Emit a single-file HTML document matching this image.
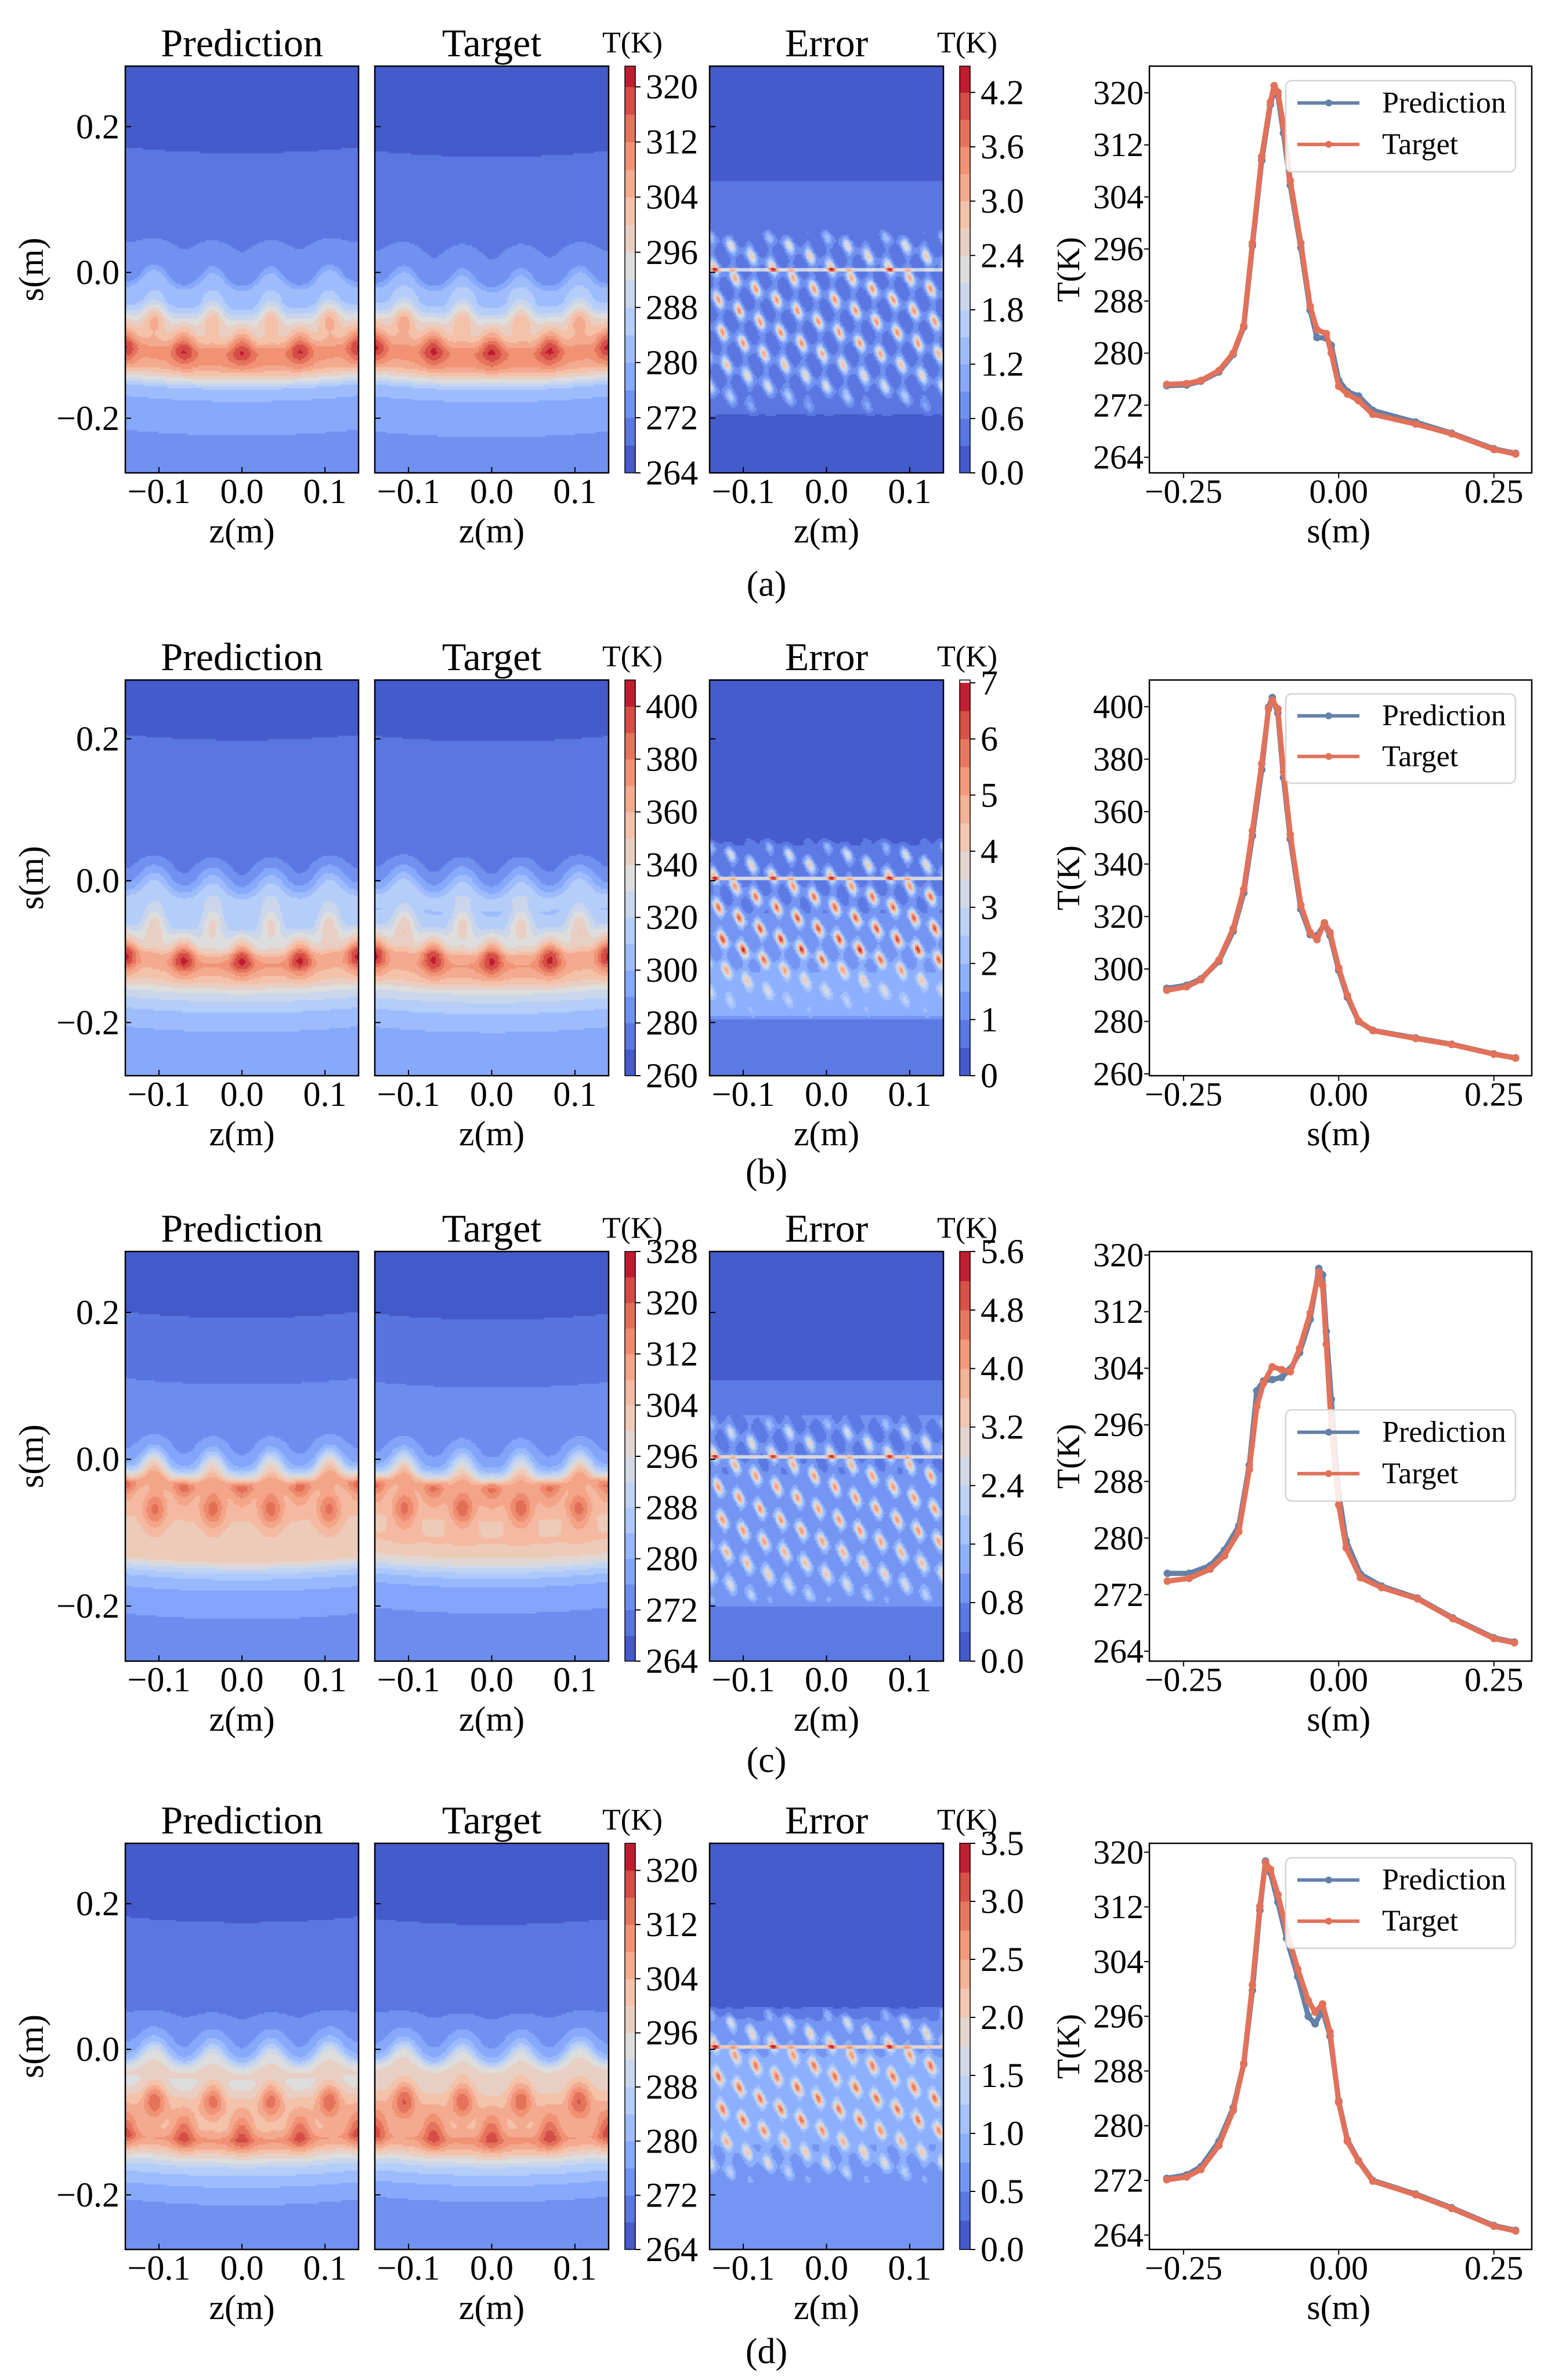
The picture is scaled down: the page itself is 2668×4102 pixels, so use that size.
<!DOCTYPE html>
<html>
<head>
<meta charset="utf-8">
<style>
html,body{margin:0;padding:0;background:#fff;}
#root{position:relative;width:2668px;height:4102px;overflow:hidden;background:#fff;}
canvas{position:absolute;}
svg{position:absolute;left:0;top:0;}
text{font-family:"Liberation Serif","DejaVu Serif",serif;fill:#000;}
</style>
</head>
<body>
<div id="root">
<svg id="ov" width="2668" height="4102" font-family="Liberation Serif, DejaVu Serif, serif"></svg>
</div>
<script>
// ---------------- DATA ----------------
const sA = [-0.277,-0.245,-0.222,-0.193,-0.170,-0.153,-0.139,-0.124,-0.110,-0.104,-0.098,-0.089,-0.078,-0.061,-0.046,-0.035,-0.020,-0.012,0.000,0.014,0.032,0.055,0.124,0.182,0.250,0.285];
const tgtA = [275.2,275.3,275.8,277.3,280.0,284.2,296.9,310.2,318.6,321.1,320.1,315.0,306.5,296.9,287.2,283.6,283.0,280.0,274.9,273.7,272.7,270.6,269.1,267.6,265.2,264.5];
const predA = [275.0,275.1,275.7,277.1,279.8,284.0,296.5,309.6,318.2,320.4,319.6,313.8,305.8,296.2,286.6,282.4,282.3,281.2,275.8,274.1,273.4,271.2,269.4,267.7,265.3,264.6];

const sB = [-0.277,-0.245,-0.222,-0.193,-0.170,-0.153,-0.139,-0.124,-0.113,-0.107,-0.098,-0.089,-0.078,-0.061,-0.046,-0.035,-0.023,-0.014,0.000,0.014,0.032,0.055,0.124,0.182,0.250,0.285];
const tgtB = [291.9,293.2,295.9,303.4,315.4,330.4,352.8,378.3,399.2,402.5,399.2,375.3,351.3,324.4,313.9,311.2,317.6,313.9,300.4,289.9,280.2,276.5,273.5,271.2,267.5,266.0];
const predB = [292.6,293.8,296.2,302.9,314.4,329.0,350.8,376.0,399.8,403.5,397.5,373.0,349.5,322.8,313.1,312.7,317.1,312.8,299.5,289.2,280.0,276.6,273.7,271.3,267.6,266.1];

const sC = [-0.276,-0.241,-0.207,-0.184,-0.161,-0.144,-0.132,-0.121,-0.107,-0.092,-0.078,-0.063,-0.046,-0.032,-0.026,-0.020,-0.012,0.000,0.012,0.035,0.069,0.127,0.184,0.250,0.283];
const tgtC = [273.9,274.3,275.6,277.5,280.9,289.7,298.6,301.9,304.2,303.8,303.5,306.8,311.8,317.6,315.7,307.4,295.7,284.7,278.6,274.4,273.0,271.4,268.6,265.8,265.2];
const predC = [275.0,275.0,276.1,278.3,281.7,290.3,300.8,302.2,302.4,302.7,303.9,306.2,310.9,318.1,317.2,309.2,299.6,286.3,279.6,274.9,273.2,271.5,268.7,265.9,265.3];

const sD = [-0.277,-0.245,-0.222,-0.193,-0.170,-0.153,-0.139,-0.127,-0.118,-0.110,-0.098,-0.084,-0.066,-0.049,-0.038,-0.026,-0.014,0.000,0.014,0.032,0.055,0.124,0.182,0.250,0.285];
const tgtD = [272.1,272.5,273.6,277.1,282.2,289.1,300.6,312.1,318.5,317.5,313.8,308.6,302.9,298.3,296.6,297.8,293.7,283.4,277.7,274.8,271.9,269.9,267.9,265.3,264.6];
const predD = [272.3,272.8,274.0,277.7,282.6,289.0,299.8,311.5,318.7,317.0,312.7,307.4,301.8,296.0,294.9,296.9,293.1,283.6,277.9,274.9,272.0,270.0,268.0,265.4,264.7];

const errS = [-0.28,-0.2,-0.19,-0.16,-0.1,-0.02,0.04,0.06,0.12,0.13,0.28];
const errBaseA = [0.15,0.15,0.45,0.5,0.5,0.5,0.5,0.45,0.45,0.15,0.15];
const errAmpA  = [0,0,0.3,1.8,3.0,3.0,2.0,0,0,0,0];
const errBaseB = [0.9,0.6,1.5,1.8,1.2,0.9,0.6,0.4,0.4,0.4,0.4];
const errAmpB  = [0,0,0.3,1.5,5.5,5,3,0,0,0,0];
const errBaseC = [0.7,0.8,1.0,1.0,0.9,0.8,0.7,0.8,0.3,0.3,0.3];
const errAmpC  = [0,0,1,2.5,3.5,3.5,2,0,0,0,0];
const errBaseD = [0.7,0.6,0.5,0.7,0.8,0.8,0.5,0.2,0.2,0.2,0.2];
const errAmpD  = [0,0,0,1.2,2.2,2.2,1.2,0,0,0,0];

// Hot-spot rows: [s-centre, amplitude K, phase (period fraction), offset]
const spotsA = [[-0.100,12,0,1],[-0.060,12,0.5,0.1]];
const spotsB = [[-0.105,40,0,1],[-0.060,30,0.5,0.1]];
const spotsC = [[-0.068,13,0.5,0.0],[-0.035,10,0,1]];
const spotsD = [[-0.068,14,0.5,0.0],[-0.112,12,0,1]];

const mapZTicks = [-0.1,0.0,0.1];
const mapSTicks = [-0.2,0.0,0.2];
const lineSTicks = [-0.25,0.0,0.25];
const tTicksA = [264,272,280,288,296,304,312,320];
const tTicksB = [260,280,300,320,340,360,380,400];
const tTicksC = [264,272,280,288,296,304,312,320,328];
const tTicksD = [264,272,280,288,296,304,312,320];
const lineTicksA = [264,272,280,288,296,304,312,320];
const lineTicksB = [260,280,300,320,340,360,380,400];
const lineTicksC = [264,272,280,288,296,304,312,320];
const lineTicksD = [264,272,280,288,296,304,312,320];
const eTicksA = [0,0.6,1.2,1.8,2.4,3.0,3.6,4.2];
const eTicksB = [0,1,2,3,4,5,6,7];
const eTicksC = [0,0.8,1.6,2.4,3.2,4.0,4.8,5.6];
const eTicksD = [0,0.5,1.0,1.5,2.0,2.5,3.0,3.5];
const captions = ["(a)","(b)","(c)","(d)"];

// ---------------- LAYOUT ----------------
const panels = [
 {top:114,bot:815,cap:1007,s:sA,tgt:tgtA,pred:predA,spots:spotsA,eb:errBaseA,ea:errAmpA,
  tr:[264,323],tstep:4,tt:tTicksA,er:[0,4.49],estep:0.3,et:eTicksA,edec:1,lr:[261.6,324.1],lt:lineTicksA,leg:[139,296]},
 {top:1172,bot:1854,cap:2020,s:sB,tgt:tgtB,pred:predB,spots:spotsB,eb:errBaseB,ea:errAmpB,
  tr:[260,410],tstep:10,tt:tTicksB,er:[0,7.05],estep:0.5,et:eTicksB,edec:0,lr:[259.3,410.2],lt:lineTicksB,leg:[1196,1350]},
 {top:2157,bot:2863,cap:3034,s:sC,tgt:tgtC,pred:predC,spots:spotsC,eb:errBaseC,ea:errAmpC,
  tr:[264,328],tstep:4,tt:tTicksC,er:[0,5.6],estep:0.4,et:eTicksC,edec:1,lr:[262.6,320.5],lt:lineTicksC,leg:[2430,2587]},
 {top:3177,bot:3877,cap:4053,s:sD,tgt:tgtD,pred:predD,spots:spotsD,eb:errBaseD,ea:errAmpD,
  tr:[264,324],tstep:4,tt:tTicksD,er:[0,3.5],estep:0.25,et:eTicksD,edec:1,lr:[261.9,321.3],lt:lineTicksD,leg:[3202,3358]}
];
const mapX = [[216,618],[646,1049],[1223,1626]];
const cbX = [[1077,1095],[1654,1672]];
const lineBox = [1981,2640];
const S_TOP = 0.283, S_BOT = -0.275, Z_MIN = -0.1405, Z_MAX = 0.1405;
const L_SMIN = -0.305, L_SMAX = 0.311;

// ---------------- HELPERS ----------------
const NS = "http://www.w3.org/2000/svg";
const ov = document.getElementById('ov');
const root = document.getElementById('root');
function el(tag, attrs, parent){
  const e = document.createElementNS(NS, tag);
  for (const k in attrs) e.setAttribute(k, attrs[k]);
  (parent||ov).appendChild(e);
  return e;
}
function txt(str, x, y, size, anchor, parent, extra){
  const t = el('text', {x:x, y:y, 'font-size':size, 'text-anchor':anchor||'middle', 'dominant-baseline':'central'}, parent);
  if (extra) for (const k in extra) t.setAttribute(k, extra[k]);
  t.textContent = str;
  return t;
}
function fmt(v, d){ const s = v.toFixed(d); return v < 0 ? '\u2212' + s.slice(1) : s; }
const stops = [[0,59,76,192],[0.125,98,130,234],[0.25,141,176,254],[0.375,184,208,249],[0.5,221,221,221],[0.625,244,196,173],[0.75,244,154,123],[0.875,222,96,77],[1,180,4,38]];
function cmap(t){
  t = Math.max(0, Math.min(1, t));
  for (let i=1;i<stops.length;i++){
    if (t <= stops[i][0]){
      const a = stops[i-1], b = stops[i], f = (t-a[0])/(b[0]-a[0]);
      return [a[1]+f*(b[1]-a[1]), a[2]+f*(b[2]-a[2]), a[3]+f*(b[3]-a[3])];
    }
  }
  return [180,4,38];
}
function interp(xs, ys, x){
  if (x <= xs[0]) return ys[0];
  if (x >= xs[xs.length-1]) return ys[ys.length-1];
  for (let i=1;i<xs.length;i++){
    if (x <= xs[i]){ const f=(x-xs[i-1])/(xs[i]-xs[i-1]); return ys[i-1]+f*(ys[i]-ys[i-1]); }
  }
}
function levelColor(v, lo, hi, step){
  const n = Math.max(1, Math.round((hi-lo)/step));
  let i = Math.floor((v-lo)/step);
  i = Math.max(0, Math.min(n-1, i));
  return cmap((i+0.5)/n);
}
const K = 2*Math.PI/0.07;
function tempField(p, arr, s, z){
  const g = (c,w)=>Math.exp(-Math.pow((s-c)/w,2));
  const curv = 0.008*(1 - Math.pow(z/0.14,2));
  const sp = s + curv + 0.016*Math.cos(K*z)*g(0.005,0.035);
  let T = interp(p.s, arr, sp);
  for (const r of p.spots){
    const c = (1+Math.cos(K*(z - r[2]*0.07)))/2;
    T += r[1]*(Math.pow(c,2.5)-r[3])*g(r[0],0.026);
  }
  return T;
}
function errField(p, s, z){
  const base = interp(errS, p.eb, s);
  const amp = interp(errS, p.ea, s);
  let pat = 0.5 + 0.5*Math.sin(2*K*z + 90*s)*Math.cos(K*z - 60*s);
  pat = Math.pow(Math.max(0, pat), 4);
  let e = base + amp*pat;
  if (Math.abs(s-0.004) < 0.0025 && amp > 0) e += (p.er[1])*0.35;
  return e;
}
function drawMap(x0, x1, y0, y1, fn, lo, hi, step, name){
  const c = document.createElement('canvas');
  const W = x1-x0, H = y1-y0;
  c.width = W; c.height = H;
  c.style.left = x0+'px'; c.style.top = y0+'px';
  
  
  root.insertBefore(c, ov);
  const ctx = c.getContext('2d');
  const cell = 3;
  for (let py=0; py<H; py+=cell){
    const s = S_TOP - (py+cell/2)/H*(S_TOP-S_BOT);
    for (let px=0; px<W; px+=cell){
      const z = Z_MIN + (px+cell/2)/W*(Z_MAX-Z_MIN);
      const col = levelColor(fn(s,z), lo, hi, step);
      ctx.fillStyle = 'rgb('+(col[0]|0)+','+(col[1]|0)+','+(col[2]|0)+')';
      ctx.fillRect(px, py, cell, cell);
    }
  }
}

// ---------------- BUILD ----------------
const titles = ["Prediction","Target","Error"];
panels.forEach((p, pi) => {
  const g = el('g', {}, ov);
  
  
  const sy = s => p.top + (S_TOP - s)/(S_TOP - S_BOT)*(p.bot - p.top);

  mapX.forEach((mx, mi) => {
    const name = ['prediction-map','target-map','error-map'][mi] + '-' + 'abcd'[pi];
    if (mi === 0) drawMap(mx[0], mx[1], p.top, p.bot, (s,z)=>tempField(p,p.pred,s,z), p.tr[0], p.tr[1], p.tstep, name);
    else if (mi === 1) drawMap(mx[0], mx[1], p.top, p.bot, (s,z)=>tempField(p,p.tgt,s,z), p.tr[0], p.tr[1], p.tstep, name);
    else drawMap(mx[0], mx[1], p.top, p.bot, (s,z)=>errField(p,s,z), p.er[0], p.er[1], p.estep, name);
    const fr = el('rect', {x:mx[0], y:p.top, width:mx[1]-mx[0], height:p.bot-p.top, fill:'none', stroke:'#000', 'stroke-width':2.5}, g);
    
    
    const tt = txt(titles[mi], (mx[0]+mx[1])/2, p.top-40, 68, 'middle', g);
    
    
    const zx = z => mx[0] + (z - Z_MIN)/(Z_MAX - Z_MIN)*(mx[1]-mx[0]);
    mapZTicks.forEach(z => {
      el('line', {x1:zx(z), x2:zx(z), y1:p.bot, y2:p.bot-10, stroke:'#000', 'stroke-width':2}, g);
      const tl = txt(fmt(z,1), zx(z), p.bot+32, 60, 'middle', g);
      
      
    });
    mapSTicks.forEach(s => {
      el('line', {x1:mx[0], x2:mx[0]+10, y1:sy(s), y2:sy(s), stroke:'#000', 'stroke-width':2}, g);
    });
    const xl = txt('z(m)', (mx[0]+mx[1])/2, p.bot+100, 60, 'middle', g);
    
    
  });
  mapSTicks.forEach(s => {
    const tl = txt(fmt(s,1), 206, sy(s), 60, 'end', g);
    
    
  });
  const yl = txt('s(m)', 0, 0, 60, 'middle', g, {transform:'translate(54,'+((p.top+p.bot)/2)+') rotate(-90)'});
  
  

  [[cbX[0], p.tr, p.tstep, p.tt, 0],[cbX[1], p.er, p.estep, p.et, p.edec]].forEach((cb, ci) => {
    const [cx, rng, step, ticks, dec] = cb;
    const cy = v => p.bot - (v - rng[0])/(rng[1]-rng[0])*(p.bot - p.top);
    const n = Math.round((rng[1]-rng[0])/step);
    for (let i=0;i<n;i++){
      const v0 = rng[0]+i*step, v1 = Math.min(rng[1], v0+step);
      const col = cmap((i+0.5)/n);
      const r = el('rect', {x:cx[0], y:cy(v1), width:cx[1]-cx[0], height:cy(v0)-cy(v1)+0.5, fill:'rgb('+(col[0]|0)+','+(col[1]|0)+','+(col[2]|0)+')'}, g);
      
      
    }
    el('rect', {x:cx[0], y:p.top, width:cx[1]-cx[0], height:p.bot-p.top, fill:'none', stroke:'#000', 'stroke-width':1.5}, g);
    ticks.forEach(v => {
      el('line', {x1:cx[1], x2:cx[1]+9, y1:cy(v), y2:cy(v), stroke:'#000', 'stroke-width':2}, g);
      const tl = txt(v.toFixed(dec), cx[1]+18, cy(v), 60, 'start', g);
      
      
    });
    const ct = txt('T(K)', (cx[0]+cx[1])/2 + 4, p.top-40, 52, 'middle', g);
    
    
  });

  const lx = s => lineBox[0] + (s - L_SMIN)/(L_SMAX - L_SMIN)*(lineBox[1]-lineBox[0]);
  const ly = T => p.bot - (T - p.lr[0])/(p.lr[1]-p.lr[0])*(p.bot - p.top);
  const lb = el('rect', {x:lineBox[0], y:p.top, width:lineBox[1]-lineBox[0], height:p.bot-p.top, fill:'#fff', stroke:'#000', 'stroke-width':2.5}, g);
  
  
  lineSTicks.forEach(s => {
    el('line', {x1:lx(s), x2:lx(s), y1:p.bot, y2:p.bot+9, stroke:'#000', 'stroke-width':2}, g);
    const tl = txt(fmt(s,2), lx(s), p.bot+32, 58, 'middle', g);
    
    
  });
  p.lt.forEach(T => {
    el('line', {x1:lineBox[0]-9, x2:lineBox[0], y1:ly(T), y2:ly(T), stroke:'#000', 'stroke-width':2}, g);
    const tl = txt(String(T), lineBox[0]-10, ly(T), 58, 'end', g);
    
    
  });
  const lyl = txt('T(K)', 0, 0, 56, 'middle', g, {transform:'translate(1842,'+((p.top+p.bot)/2)+') rotate(-90)'});
  
  
  const lxl = txt('s(m)', lx(0), p.bot+100, 60, 'middle', g);
  
  

  [[p.pred,'#6481a8','prediction'],[p.tgt,'#e2715a','target']].forEach(sr => {
    const pts = p.s.map((s,i) => lx(s).toFixed(1)+','+ly(sr[0][i]).toFixed(1)).join(' ');
    const pl = el('polyline', {points:pts, fill:'none', stroke:sr[1], 'stroke-width':9, 'stroke-linejoin':'round', 'stroke-linecap':'round'}, g);
    
    
    p.s.forEach((s,i) => {
      const c = el('circle', {cx:lx(s), cy:ly(sr[0][i]), r:6.5, fill:sr[1]}, g);
      
      
    });
  });

  const lg = el('g', {}, g);
  
  
  el('rect', {x:2216, y:p.leg[0], width:396, height:p.leg[1]-p.leg[0], rx:10, fill:'#fff', 'fill-opacity':0.85, stroke:'#d4d4d4', 'stroke-width':2.5}, lg);
  const ey = [p.leg[0] + (p.leg[1]-p.leg[0])*0.245, p.leg[0] + (p.leg[1]-p.leg[0])*0.70];
  [['Prediction','#6481a8'],['Target','#e2715a']].forEach((e, i) => {
    const ent = el('g', {}, lg);
    
    
    el('line', {x1:2236, x2:2343, y1:ey[i], y2:ey[i], stroke:e[1], 'stroke-width':6}, ent);
    el('circle', {cx:2290, cy:ey[i], r:6, fill:e[1]}, ent);
    txt(e[0], 2382, ey[i], 52, 'start', ent);
  });

  const cap = txt(captions[pi], 1321, p.cap, 62, 'middle', g);
  
  
});
</script>
</body>
</html>
